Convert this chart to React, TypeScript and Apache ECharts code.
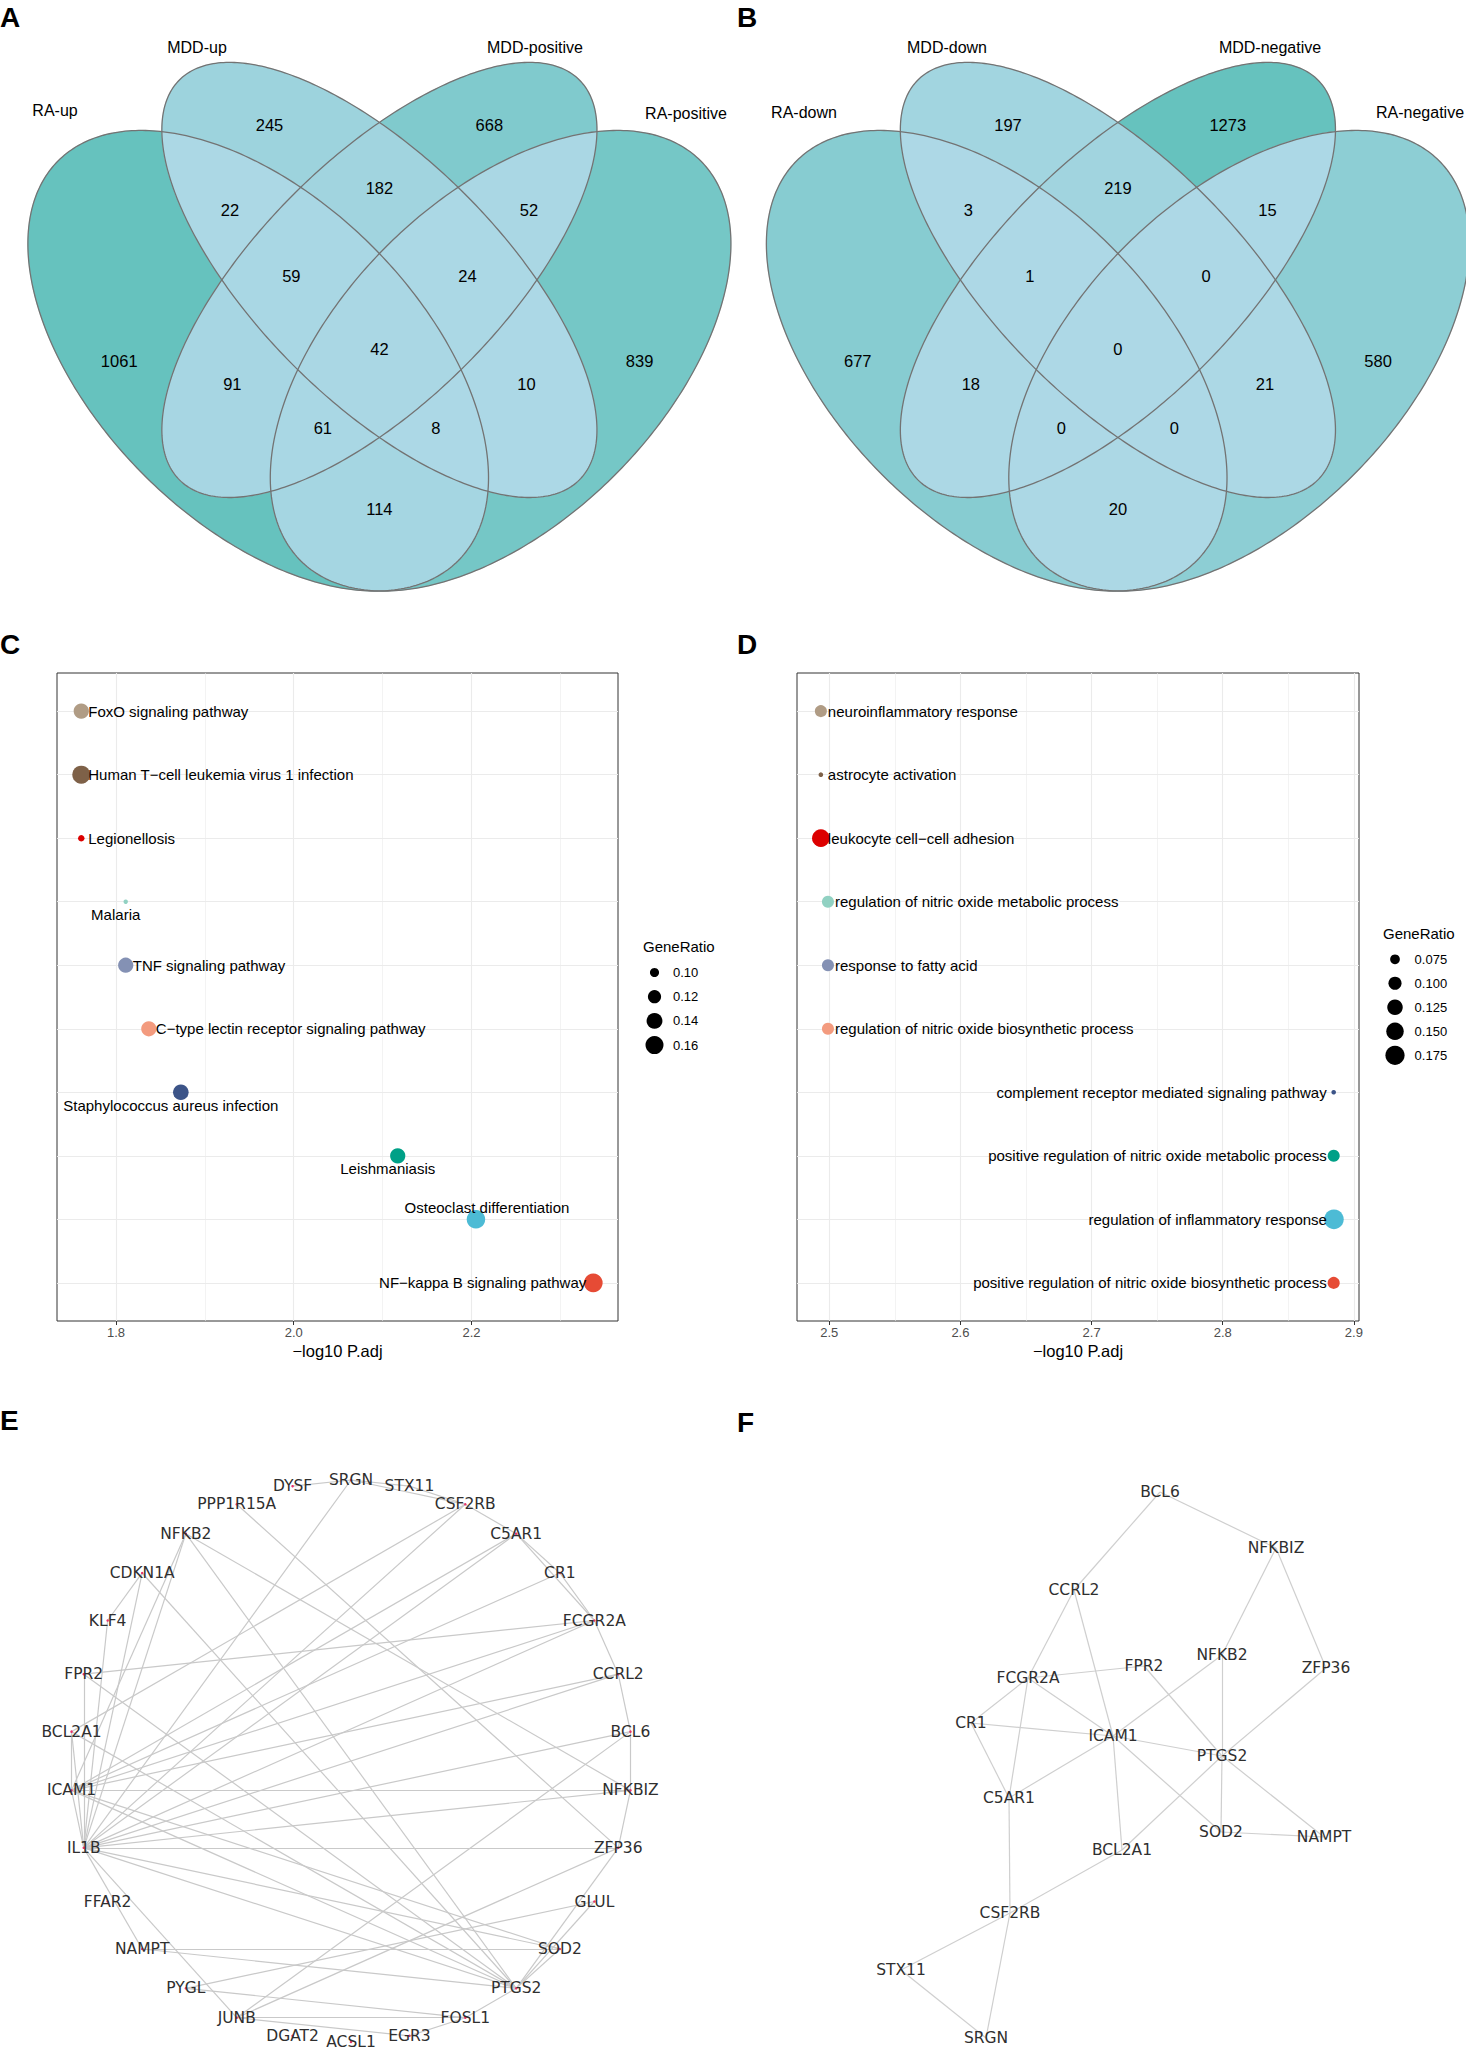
import React, { useEffect, useRef } from "react";
import * as echarts from "echarts";

// ================= DATA =================
// Venn A / B : set names and region counts (region keys = membership of sets 1..4)
const VENN_A_SETS = ["RA-up", "MDD-up", "MDD-positive", "RA-positive"];
const VENN_B_SETS = ["RA-down", "MDD-down", "MDD-negative", "RA-negative"];
const VENN_REGION_KEYS = ["1", "2", "3", "4", "12", "23", "34", "13", "24", "14", "123", "234", "134", "124", "1234"];
const VENN_A_COUNTS = [1061, 245, 668, 839, 22, 182, 52, 91, 10, 114, 59, 24, 61, 8, 42];
const VENN_B_COUNTS = [677, 197, 1273, 580, 3, 219, 15, 18, 21, 20, 1, 0, 0, 0, 0];

// Panel C (KEGG)
const C_TERMS = [
  "FoxO signaling pathway",
  "Human T\u2212cell leukemia virus 1 infection",
  "Legionellosis",
  "Malaria",
  "TNF signaling pathway",
  "C\u2212type lectin receptor signaling pathway",
  "Staphylococcus aureus infection",
  "Leishmaniasis",
  "Osteoclast differentiation",
  "NF\u2212kappa B signaling pathway",
];
const C_LOGP = [1.761, 1.761, 1.761, 1.811, 1.811, 1.837, 1.873, 2.117, 2.205, 2.337];
const C_RATIO = [0.135, 0.16, 0.0935, 0.092, 0.135, 0.135, 0.138, 0.135, 0.165, 0.167];
const C_LEGEND = [0.1, 0.12, 0.14, 0.16];
const C_TICKS = [1.8, 2.0, 2.2];
const C_MINOR = [1.9, 2.1, 2.3];

// Panel D (GO)
const D_TERMS = [
  "neuroinflammatory response",
  "astrocyte activation",
  "leukocyte cell\u2212cell adhesion",
  "regulation of nitric oxide metabolic process",
  "response to fatty acid",
  "regulation of nitric oxide biosynthetic process",
  "complement receptor mediated signaling pathway",
  "positive regulation of nitric oxide metabolic process",
  "regulation of inflammatory response",
  "positive regulation of nitric oxide biosynthetic process",
];
const D_LOGP = [2.4936, 2.4936, 2.4936, 2.499, 2.499, 2.499, 2.8846, 2.8846, 2.8848, 2.8846];
const D_RATIO = [0.091, 0.061, 0.152, 0.091, 0.091, 0.091, 0.061, 0.091, 0.182, 0.091];
const D_LEGEND = [0.075, 0.1, 0.125, 0.15, 0.175];
const D_TICKS = [2.5, 2.6, 2.7, 2.8, 2.9];
const D_MINOR = [2.55, 2.65, 2.75, 2.85];

// Panel E network (circular order, clockwise from top)
const E_NODES = [
  "SRGN", "STX11", "CSF2RB", "C5AR1", "CR1", "FCGR2A", "CCRL2", "BCL6", "NFKBIZ", "ZFP36",
  "GLUL", "SOD2", "PTGS2", "FOSL1", "EGR3", "ACSL1", "DGAT2", "JUNB", "PYGL", "NAMPT",
  "FFAR2", "IL1B", "ICAM1", "BCL2A1", "FPR2", "KLF4", "CDKN1A", "NFKB2", "PPP1R15A", "DYSF",
];
const E_EDGES = [
  ["DYSF", "SRGN"], ["SRGN", "STX11"], ["STX11", "CSF2RB"], ["SRGN", "CSF2RB"], ["CSF2RB", "C5AR1"],
  ["C5AR1", "CR1"], ["C5AR1", "FCGR2A"], ["CR1", "FCGR2A"], ["FCGR2A", "CCRL2"], ["CCRL2", "BCL6"],
  ["BCL6", "NFKBIZ"], ["NFKBIZ", "ZFP36"], ["ZFP36", "PTGS2"], ["GLUL", "PTGS2"], ["SOD2", "PTGS2"],
  ["PTGS2", "FOSL1"], ["FOSL1", "EGR3"], ["JUNB", "FOSL1"], ["JUNB", "EGR3"], ["PYGL", "FOSL1"],
  ["GLUL", "PYGL"], ["ZFP36", "JUNB"], ["BCL6", "JUNB"], ["NAMPT", "SOD2"], ["NAMPT", "PTGS2"],
  ["IL1B", "NAMPT"], ["IL1B", "JUNB"], ["IL1B", "ICAM1"], ["IL1B", "BCL2A1"], ["IL1B", "FPR2"],
  ["IL1B", "KLF4"], ["IL1B", "CDKN1A"], ["IL1B", "NFKB2"], ["IL1B", "SRGN"], ["IL1B", "CSF2RB"],
  ["IL1B", "C5AR1"], ["IL1B", "FCGR2A"], ["IL1B", "CCRL2"], ["IL1B", "BCL6"], ["IL1B", "NFKBIZ"],
  ["IL1B", "ZFP36"], ["IL1B", "SOD2"], ["IL1B", "PTGS2"], ["ICAM1", "BCL2A1"], ["ICAM1", "NFKB2"],
  ["ICAM1", "C5AR1"], ["ICAM1", "CR1"], ["ICAM1", "FCGR2A"], ["ICAM1", "CCRL2"], ["ICAM1", "NFKBIZ"],
  ["ICAM1", "SOD2"], ["ICAM1", "PTGS2"], ["BCL2A1", "CSF2RB"], ["BCL2A1", "PTGS2"], ["FPR2", "FCGR2A"],
  ["FPR2", "PTGS2"], ["CDKN1A", "KLF4"], ["CDKN1A", "PTGS2"], ["NFKB2", "NFKBIZ"], ["NFKB2", "PTGS2"],
  ["PPP1R15A", "ZFP36"],
];

// Panel F network (force-layout positions, local units)
const F_NODES = [
  "BCL6", "NFKBIZ", "CCRL2", "FCGR2A", "FPR2", "NFKB2", "ZFP36", "CR1", "ICAM1",
  "PTGS2", "C5AR1", "SOD2", "NAMPT", "BCL2A1", "CSF2RB", "STX11", "SRGN",
];
const F_LAYOUT = [
  [280, 22], [396, 78], [194, 120], [148, 208], [264, 196], [342, 185], [446, 198], [91, 253], [233, 266],
  [342, 286], [129, 328], [341, 362], [444, 367], [242, 380], [130, 443], [21, 500], [106, 568],
];
const F_EDGES = [
  ["BCL6", "CCRL2"], ["BCL6", "NFKBIZ"], ["NFKBIZ", "NFKB2"], ["NFKBIZ", "ZFP36"], ["CCRL2", "FCGR2A"],
  ["CCRL2", "ICAM1"], ["FCGR2A", "FPR2"], ["FCGR2A", "CR1"], ["FCGR2A", "ICAM1"], ["FCGR2A", "C5AR1"],
  ["CR1", "ICAM1"], ["CR1", "C5AR1"], ["FPR2", "PTGS2"], ["NFKB2", "ICAM1"], ["NFKB2", "PTGS2"],
  ["PTGS2", "SOD2"], ["ZFP36", "PTGS2"], ["ICAM1", "PTGS2"], ["ICAM1", "C5AR1"], ["ICAM1", "SOD2"],
  ["ICAM1", "BCL2A1"], ["PTGS2", "BCL2A1"], ["PTGS2", "NAMPT"], ["SOD2", "NAMPT"], ["BCL2A1", "CSF2RB"],
  ["C5AR1", "CSF2RB"], ["CSF2RB", "STX11"], ["CSF2RB", "SRGN"], ["STX11", "SRGN"],
];

// ================= STYLE / LAYOUT =================
const FONT = "Liberation Sans, Arial, Helvetica, sans-serif";
const NET_FONT = "DejaVu Sans, Verdana, sans-serif";
const NPG = ["#E64B35", "#4DBBD5", "#00A087", "#3C5488", "#F39B7F", "#8491B4", "#91D1C2", "#DC0000", "#7E6148", "#B09C85"];

// VennDiagram quad layout (unit square, y up)
const VENN_ELLIPSES = [
  { cx: 0.35, cy: 0.47, a: 0.35, b: 0.2, rot: 135 },
  { cx: 0.5, cy: 0.57, a: 0.35, b: 0.15, rot: 135 },
  { cx: 0.5, cy: 0.57, a: 0.35, b: 0.15, rot: 45 },
  { cx: 0.65, cy: 0.47, a: 0.35, b: 0.2, rot: 45 },
];
const VENN_LABEL_POS: Record<string, number[]> = {
  "1": [0.178, 0.47], "2": [0.364, 0.762], "3": [0.636, 0.762], "4": [0.822, 0.47],
  "12": [0.315, 0.656], "23": [0.5, 0.684], "34": [0.685, 0.656],
  "13": [0.318, 0.441], "24": [0.682, 0.441], "14": [0.5, 0.286],
  "123": [0.391, 0.575], "234": [0.609, 0.575], "134": [0.43, 0.387], "124": [0.57, 0.387], "1234": [0.5, 0.485],
};
const VENN_A_TF = { ox: -24.6, oy: 740.5, s: 808 };
const VENN_B_TF = { ox: 713.9, oy: 740.5, s: 808 };
const VENN_A_SETPOS = [[55, 110], [197, 47], [535, 47], [686, 113]];
const VENN_B_SETPOS = [[804, 112], [947, 47], [1270, 47], [1420, 112]];
const VENN_LOW = [173, 216, 230];
const VENN_HIGH = [102, 194, 190];

const C_LABEL_SIDE = ["r", "r", "r", "b", "r", "r", "b", "b", "a", "l"];
const D_LABEL_SIDE = ["r", "r", "r", "r", "r", "r", "l", "l", "l", "l"];

type P = number[];

function ellipsePoly(e: any, tf: any, n = 360): P[] {
  const pts: P[] = [];
  const r = (e.rot * Math.PI) / 180;
  for (let i = 0; i < n; i++) {
    const t = (i / n) * Math.PI * 2;
    const ux = e.a * Math.cos(t);
    const uy = e.b * Math.sin(t);
    const x = e.cx + ux * Math.cos(r) - uy * Math.sin(r);
    const y = e.cy + ux * Math.sin(r) + uy * Math.cos(r);
    pts.push([tf.ox + tf.s * x, tf.oy - tf.s * y]);
  }
  return pts;
}

function signedArea(p: P[]) {
  let s = 0;
  for (let i = 0; i < p.length; i++) {
    const a = p[i], b = p[(i + 1) % p.length];
    s += a[0] * b[1] - b[0] * a[1];
  }
  return s / 2;
}

function clipConvex(subject: P[], clip: P[]): P[] {
  let out = subject;
  const sgn = signedArea(clip) > 0 ? 1 : -1;
  const n = clip.length;
  for (let i = 0; i < n; i++) {
    if (!out.length) break;
    const a = clip[i], b = clip[(i + 1) % n];
    const ex = b[0] - a[0], ey = b[1] - a[1];
    const inside = (p: P) => sgn * (ex * (p[1] - a[1]) - ey * (p[0] - a[0])) >= 0;
    const inter = (p1: P, p2: P): P => {
      const dx = p2[0] - p1[0], dy = p2[1] - p1[1];
      const den = dx * ey - dy * ex;
      const t = den === 0 ? 0 : ((a[0] - p1[0]) * ey - (a[1] - p1[1]) * ex) / den;
      return [p1[0] + t * dx, p1[1] + t * dy];
    };
    const inp = out;
    out = [];
    for (let j = 0; j < inp.length; j++) {
      const cur = inp[j], prev = inp[(j + inp.length - 1) % inp.length];
      const ci = inside(cur), pi = inside(prev);
      if (ci) {
        if (!pi) out.push(inter(prev, cur));
        out.push(cur);
      } else if (pi) {
        out.push(inter(prev, cur));
      }
    }
  }
  return out;
}

function vennColor(c: number, max: number) {
  const t = max > 0 ? c / max : 0;
  const ch = VENN_LOW.map((l, i) => Math.round(l + (VENN_HIGH[i] - l) * t));
  return `rgb(${ch[0]},${ch[1]},${ch[2]})`;
}

function vennElements(sets: string[], counts: number[], tf: any, setPos: number[][]) {
  const els: any[] = [];
  const polys = VENN_ELLIPSES.map((e) => ellipsePoly(e, tf));
  const max = Math.max(...counts);
  const order = VENN_REGION_KEYS.map((k, i) => ({ k, i })).sort((p, q) => p.k.length - q.k.length);
  order.forEach(({ k, i }) => {
    const idx = k.split("").map((d) => parseInt(d, 10) - 1);
    let poly = polys[idx[0]];
    for (let j = 1; j < idx.length; j++) poly = clipConvex(poly, polys[idx[j]]);
    if (poly.length > 2) {
      els.push({
        type: "polygon", silent: true, z: 1 + k.length,
        shape: { points: poly },
        style: { fill: vennColor(counts[i], max), stroke: vennColor(counts[i], max), lineWidth: 0.4 },
      });
    }
  });
  polys.forEach((p) => {
    els.push({
      type: "polygon", silent: true, z: 10,
      shape: { points: p },
      style: { fill: "none", stroke: "#737373", lineWidth: 1.3 },
    });
  });
  VENN_REGION_KEYS.forEach((k, i) => {
    const [ux, uy] = VENN_LABEL_POS[k];
    els.push({
      type: "text", silent: true, z: 12,
      x: tf.ox + tf.s * ux, y: tf.oy - tf.s * uy,
      style: {
        text: String(counts[i]), fill: "#000", fontSize: 16.5, fontFamily: FONT,
        align: "center", verticalAlign: "middle", textAlign: "center", textVerticalAlign: "middle",
      },
    });
  });
  sets.forEach((s, i) => {
    els.push({
      type: "text", silent: true, z: 12,
      x: setPos[i][0], y: setPos[i][1],
      style: {
        text: s, fill: "#000", fontSize: 16, fontFamily: FONT,
        align: "center", verticalAlign: "middle", textAlign: "center", textVerticalAlign: "middle",
      },
    });
  });
  return els;
}

function sizeScale(values: number[], base: number, floor: number) {
  const lo = Math.min(...values), hi = Math.max(...values);
  return (v: number) => floor + base * (1 + 5 * Math.sqrt(Math.max(0, (v - lo) / (hi - lo))));
}

const LABEL_PLACE: Record<string, any> = {
  r: { align: "left", offset: [7, 0] },
  l: { align: "right", offset: [-7, 0] },
  b: { align: "center", offset: [-10, 13] },
  a: { align: "center", offset: [11, -12] },
};

function dotSeries(terms: string[], xs: number[], ratios: number[], sides: string[], gi: number, sizeFn: any) {
  const n = terms.length;
  return {
    type: "scatter", xAxisIndex: gi, yAxisIndex: gi, z: 5, silent: true, clip: false,
    data: terms.map((t, i) => {
      const lp = LABEL_PLACE[sides[i]];
      return {
        name: t,
        value: [xs[i], n - i],
        symbolSize: sizeFn(ratios[i]),
        itemStyle: { color: NPG[n - 1 - i], opacity: 1 },
        label: {
          show: true, position: "inside", formatter: "{b}", align: lp.align, verticalAlign: "middle",
          offset: lp.offset, color: "#000", fontSize: 15, fontFamily: FONT,
        },
      };
    }),
  };
}

function gridLineSeries(gi: number, major: number[], minor: number[], nRows: number) {
  const rows = Array.from({ length: nRows }, (_, k) => k + 1);
  const col = "#ebebeb";
  return {
    type: "scatter", xAxisIndex: gi, yAxisIndex: gi, z: 1, silent: true,
    symbolSize: 0, data: [[major[0], -100]],
    markLine: {
      silent: true, symbol: ["none", "none"], label: { show: false }, animation: false,
      emphasis: { disabled: true },
      data: [
        ...minor.map((v) => ({ xAxis: v, lineStyle: { color: col, width: 0.6, type: "solid" } })),
        ...major.map((v) => ({ xAxis: v, lineStyle: { color: col, width: 1.1, type: "solid" } })),
        ...rows.map((v) => ({ yAxis: v, lineStyle: { color: col, width: 1.1, type: "solid" } })),
      ],
    },
  };
}

function legendElements(title: string, vals: number[], sizeFn: any, tx: number, ty: number, cx: number, y0: number, dy: number, textX: number, digits: number) {
  const els: any[] = [];
  els.push({
    type: "text", silent: true, x: tx, y: ty,
    style: { text: title, fill: "#000", fontSize: 15, fontFamily: FONT, align: "left", verticalAlign: "middle", textAlign: "left", textVerticalAlign: "middle" },
  });
  vals.forEach((v, i) => {
    els.push({ type: "circle", silent: true, shape: { cx, cy: y0 + i * dy, r: sizeFn(v) / 2 }, style: { fill: "#000" } });
    els.push({
      type: "text", silent: true, x: textX, y: y0 + i * dy,
      style: { text: v.toFixed(digits), fill: "#000", fontSize: 13, fontFamily: FONT, align: "left", verticalAlign: "middle", textAlign: "left", textVerticalAlign: "middle" },
    });
  });
  return els;
}

function letter(t: string, x: number, y: number) {
  return {
    type: "text", silent: true, x, y, z: 20,
    style: { text: t, fill: "#000", fontSize: 28, fontWeight: "bold", fontFamily: FONT, align: "left", verticalAlign: "middle", textAlign: "left", textVerticalAlign: "middle" },
  };
}

function valueAxis(gi: number, range: number[], ticks: number[], name: string) {
  return {
    type: "value", gridIndex: gi, min: range[0], max: range[1],
    axisLine: { show: false },
    axisTick: { show: true, length: 4, lineStyle: { color: "#333", width: 1 }, customValues: ticks },
    axisLabel: { show: true, customValues: ticks, formatter: (v: number) => v.toFixed(1), color: "#4d4d4d", fontSize: 13, fontFamily: FONT, margin: 5 },
    splitLine: { show: false },
    minorSplitLine: { show: false },
    name, nameLocation: "middle", nameGap: 21,
    nameTextStyle: { color: "#000", fontSize: 16.5, fontFamily: FONT },
  };
}

function hiddenAxis(gi: number, min: number, max: number, inverse = false) {
  return { type: "value", gridIndex: gi, min, max, inverse, show: false, splitLine: { show: false } };
}

function buildOption() {
  const cSize = sizeScale(C_RATIO, 2.85, 1.6);
  const dSize = sizeScale(D_RATIO, 3.0, 1.6);
  const E_CX = 351, E_CY = 361, E_R = 281;
  const eData = E_NODES.map((n, k) => {
    const th = (k * 2 * Math.PI) / E_NODES.length;
    return { name: n, value: [E_CX + E_R * Math.sin(th), E_CY - E_R * Math.cos(th)] };
  });
  const fData = F_NODES.map((n, k) => ({ name: n, value: F_LAYOUT[k] }));

  const graphic = [
    ...vennElements(VENN_A_SETS, VENN_A_COUNTS, VENN_A_TF, VENN_A_SETPOS),
    ...vennElements(VENN_B_SETS, VENN_B_COUNTS, VENN_B_TF, VENN_B_SETPOS),
    ...legendElements("GeneRatio", C_LEGEND, cSize, 643, 946, 654.5, 972.5, 24.2, 673, 2),
    ...legendElements("GeneRatio", D_LEGEND, dSize, 1383, 933, 1395, 959.3, 24, 1414.6, 3),
    letter("A", 0, 17), letter("B", 737, 17),
    letter("C", 0, 644), letter("D", 737, 644),
    letter("E", 0, 1420), letter("F", 737, 1422),
  ];

  const netLabel = { show: true, position: "inside", color: "#2f2f2f", fontSize: 15.5, fontFamily: NET_FONT };

  return {
    animation: false,
    backgroundColor: "#ffffff",
    textStyle: { fontFamily: FONT },
    grid: [
      { left: 57, top: 673, width: 561, height: 648, show: true, borderColor: "#333", borderWidth: 1, backgroundColor: "transparent", containLabel: false, outerBoundsMode: "none" },
      { left: 797, top: 673, width: 562, height: 648, show: true, borderColor: "#333", borderWidth: 1, backgroundColor: "transparent", containLabel: false, outerBoundsMode: "none" },
      { left: 0, top: 1400, width: 720, height: 651, show: false, containLabel: false, outerBoundsMode: "none" },
      { left: 880, top: 1470, width: 586, height: 581, show: false, containLabel: false, outerBoundsMode: "none" },
    ],
    xAxis: [
      valueAxis(0, [1.7337, 2.3648], C_TICKS, "\u2212log10 P.adj"),
      valueAxis(1, [2.4754, 2.9039], D_TICKS, "\u2212log10 P.adj"),
      hiddenAxis(2, 0, 720),
      hiddenAxis(3, 0, 586),
    ],
    yAxis: [
      hiddenAxis(0, 0.4, 10.6),
      hiddenAxis(1, 0.4, 10.6),
      hiddenAxis(2, 0, 651, true),
      hiddenAxis(3, 0, 581, true),
    ],
    graphic: { elements: graphic },
    series: [
      gridLineSeries(0, C_TICKS, C_MINOR, C_TERMS.length),
      gridLineSeries(1, D_TICKS, D_MINOR, D_TERMS.length),
      dotSeries(C_TERMS, C_LOGP, C_RATIO, C_LABEL_SIDE, 0, cSize),
      dotSeries(D_TERMS, D_LOGP, D_RATIO, D_LABEL_SIDE, 1, dSize),
      {
        type: "graph", coordinateSystem: "cartesian2d", xAxisIndex: 2, yAxisIndex: 2, silent: true,
        data: eData,
        links: E_EDGES.map(([s, t]) => ({ source: s, target: t })),
        symbol: "circle", symbolSize: 2.5, itemStyle: { color: "#e8336d" },
        lineStyle: { color: "#c9c9c9", width: 1.2, opacity: 1, curveness: 0 },
        label: netLabel, emphasis: { disabled: true },
      },
      {
        type: "graph", coordinateSystem: "cartesian2d", xAxisIndex: 3, yAxisIndex: 3, silent: true,
        data: fData,
        links: F_EDGES.map(([s, t]) => ({ source: s, target: t })),
        symbol: "circle", symbolSize: 1, itemStyle: { color: "rgba(0,0,0,0)" },
        lineStyle: { color: "#cfcfcf", width: 1.2, opacity: 1, curveness: 0 },
        label: netLabel, emphasis: { disabled: true },
      },
    ],
  };
}

export default function App() {
  const ref = useRef<HTMLDivElement>(null);
  useEffect(() => {
    const chart = echarts.init(ref.current as HTMLDivElement, null, { renderer: "svg" });
    chart.setOption(buildOption() as any);
    return () => chart.dispose();
  }, []);
  return (
    <div
      ref={ref}
      style={{ position: "absolute", left: 0, top: 0, width: 1466, height: 2051, background: "#fff" }}
    />
  );
}
